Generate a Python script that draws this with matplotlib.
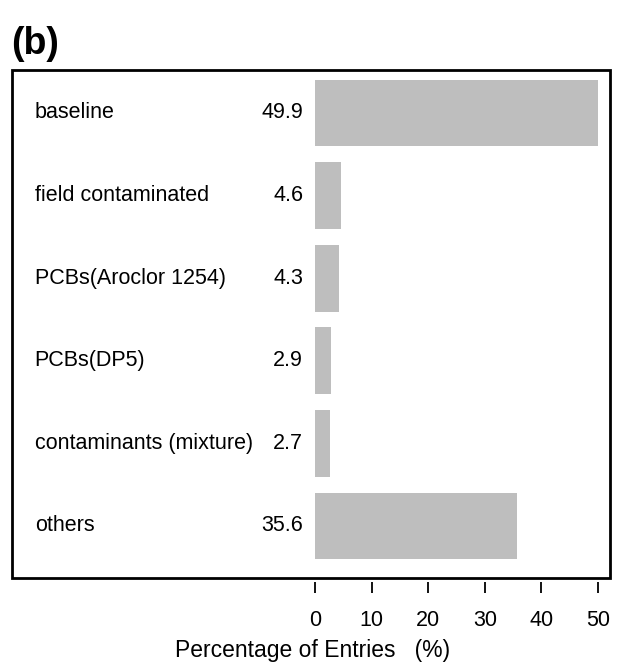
import matplotlib.pyplot as plt
from matplotlib.patches import Rectangle

plt.rcParams['font.family'] = ['Liberation Sans', 'DejaVu Sans']

categories = ['baseline', 'field contaminated', 'PCBs(Aroclor 1254)',
              'PCBs(DP5)', 'contaminants (mixture)', 'others']
values = [49.9, 4.6, 4.3, 2.9, 2.7, 35.6]
xticks = [0, 10, 20, 30, 40, 50]

fig = plt.figure(figsize=(6.25, 6.65), dpi=100)
ax = fig.add_axes([0.0192, 0.1308, 0.9568, 0.7639])

pos = list(range(len(categories)))
ax.barh(pos, values, height=0.81, color='#bebebe', left=0)

for i in pos:
    ax.text(-49.5, i, categories[i], ha='left', va='center', fontsize=15.5)
    ax.text(-2.1, i, '%.1f' % values[i], ha='right', va='center', fontsize=15.5)

ax.set_xlim(-53.5, 52.1)
ax.set_ylim(5.63, -0.52)
ax.set_yticks([])
ax.set_xticks(xticks)
ax.tick_params(axis='x', length=8, width=1.3, pad=12, labelsize=15.5)

# R-style box plus detached x axis ticks
for s in ax.spines.values():
    s.set_visible(False)
ax.spines['bottom'].set_position(('outward', 3))
ax.add_patch(Rectangle((0, 0), 1, 1, transform=ax.transAxes, fill=False,
                       lw=2, edgecolor='black', clip_on=False))

fig.text(0.5, 1 - 651 / 665, 'Percentage of Entries   (%)', fontsize=16.5,
         ha='center', va='center')
fig.text(0.018, 1 - 44 / 665, '(b)', fontsize=27, fontweight='bold', va='center')

fig.savefig('out.png', dpi=100)
